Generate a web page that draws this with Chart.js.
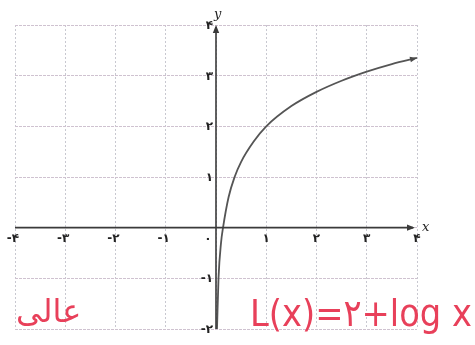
<html lang="fa">
<head>
    <meta charset="UTF-8">
    <title>L(x) = 2 + log x</title>
    <script src="https://cdn.jsdelivr.net/npm/chart.js"></script>
    <style>
        body { margin: 0; background: #fff; }
    </style>
</head>
<body>
    <canvas id="myChart" width="475" height="345"></canvas>

    <script>
        // punkter aflæst fra kurven
        const xVals = [0.02, 0.05, 0.1, 0.14, 0.25, 0.37, 0.5, 0.75, 1, 1.5, 2, 2.5, 3, 3.5, 4];
        const yVals = [-2, -1, -0.3, 0, 0.6, 1, 1.3, 1.7, 2, 2.4, 2.68, 2.9, 3.08, 3.23, 3.35];

        // aksernes tal (persiske cifre)
        const xTicks = [-4, -3, -2, -1, 0, 1, 2, 3, 4];
        const xTickLabels = ['-۴', '-۳', '-۲', '-۱', '۰', '۱', '۲', '۳', '۴'];
        const yTicks = [-2, -1, 1, 2, 3, 4];
        const yTickLabels = ['-۲', '-۱', '۱', '۲', '۳', '۴'];

        const noteLeft = 'عالی';
        const noteRight = 'L(x)=۲+log x';

        function arrow(ctx, x, y, angle, size) {
            ctx.save();
            ctx.translate(x, y);
            ctx.rotate(angle);
            ctx.beginPath();
            ctx.moveTo(0, 0);
            ctx.lineTo(-size, -size * 0.4);
            ctx.lineTo(-size, size * 0.4);
            ctx.closePath();
            ctx.fill();
            ctx.restore();
        }

        const axesPlugin = {
            id: 'axes',
            afterDatasetsDraw(chart) {
                const ctx = chart.ctx;
                const sx = chart.scales.x, sy = chart.scales.y;
                const x0 = sx.getPixelForValue(0), y0 = sy.getPixelForValue(0);
                ctx.save();
                ctx.strokeStyle = '#3a3a3a';
                ctx.fillStyle = '#3a3a3a';
                ctx.lineWidth = 1.6;

                // x-akse
                ctx.beginPath();
                ctx.moveTo(sx.getPixelForValue(-4), y0);
                ctx.lineTo(sx.getPixelForValue(4) - 4, y0);
                ctx.stroke();
                arrow(ctx, sx.getPixelForValue(4) - 2, y0, 0, 8);

                // y-akse
                ctx.beginPath();
                ctx.moveTo(x0, sy.getPixelForValue(-2));
                ctx.lineTo(x0, sy.getPixelForValue(4) + 2);
                ctx.stroke();
                arrow(ctx, x0, sy.getPixelForValue(4), -Math.PI / 2, 8);

                // pil for enden af kurven
                const n = xVals.length;
                const ex = sx.getPixelForValue(xVals[n - 1]), ey = sy.getPixelForValue(yVals[n - 1]);
                const px = sx.getPixelForValue(xVals[n - 2]), py = sy.getPixelForValue(yVals[n - 2]);
                ctx.fillStyle = '#4a4a4a';
                arrow(ctx, ex, ey, Math.atan2(ey - py, ex - px), 7);

                // tal
                ctx.fillStyle = '#222';
                ctx.font = 'bold 12px "DejaVu Sans"';
                ctx.textAlign = 'center';
                ctx.textBaseline = 'top';
                xTicks.forEach((v, i) => {
                    const px2 = sx.getPixelForValue(v) + (v === 0 ? -8 : (v < 0 ? -2 : 0));
                    ctx.fillText(xTickLabels[i], px2, y0 + 5);
                });
                ctx.textAlign = 'right';
                ctx.textBaseline = 'middle';
                yTicks.forEach((v, i) => {
                    ctx.fillText(yTickLabels[i], x0 - 3, sy.getPixelForValue(v) + 1);
                });

                // aksenavne
                ctx.font = 'italic 13px "DejaVu Serif"';
                ctx.textAlign = 'left';
                ctx.fillText('y', x0 - 2, 15);
                ctx.fillText('x', sx.getPixelForValue(4) + 5, y0);

                // håndskrift
                ctx.fillStyle = '#e8405a';
                ctx.font = '32px "DejaVu Sans"';
                ctx.textBaseline = 'alphabetic';
                ctx.fillText(noteLeft, 16, 322);
                ctx.font = '38px "DejaVu Sans"';
                const w = ctx.measureText(noteRight).width;
                ctx.save();
                ctx.translate(250, 326);
                ctx.scale(222 / w, 1);
                ctx.fillText(noteRight, 0, 0);
                ctx.restore();
                ctx.restore();
            }
        };

        const ctx = document.getElementById('myChart').getContext('2d');
        const myChart = new Chart(ctx, {
            type: 'scatter',
            data: {
                datasets: [{
                    data: xVals.map((x, i) => ({ x: x, y: yVals[i] })),
                    showLine: true,
                    borderColor: '#555555',
                    borderWidth: 1.8,
                    pointRadius: 0,
                    cubicInterpolationMode: 'monotone'
                }]
            },
            options: {
                responsive: false,
                animation: false,
                layout: { padding: { left: 15, right: 58, top: 25, bottom: 16 } },
                plugins: { legend: { display: false }, tooltip: { enabled: false } },
                scales: {
                    x: {
                        type: 'linear', min: -4, max: 4,
                        ticks: { display: false, stepSize: 1 },
                        grid: { color: '#c8c8d0', drawTicks: false, lineWidth: 1 },
                        border: { display: false, dash: [2, 2] }
                    },
                    y: {
                        type: 'linear', min: -2, max: 4,
                        ticks: { display: false, stepSize: 1 },
                        grid: { color: '#cfc2d0', drawTicks: false, lineWidth: 1 },
                        border: { display: false, dash: [3, 1] }
                    }
                }
            },
            plugins: [axesPlugin]
        });
    </script>
</body>
</html>
